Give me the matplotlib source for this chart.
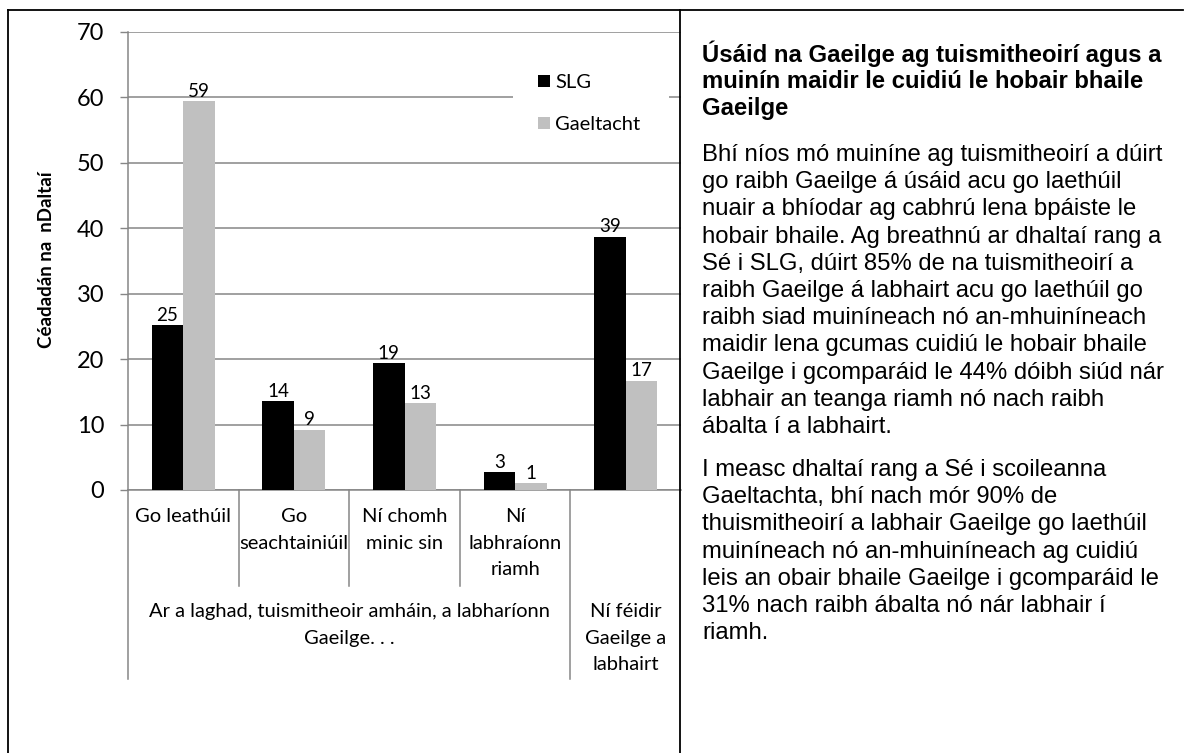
import matplotlib.pyplot as plt
import matplotlib.patches as mpatches
from matplotlib.lines import Line2D
import matplotlib.transforms as mtransforms
import numpy as np

# data
categories = ["Go leathúil", "Go\nseachtainiúil", "Ní chomh\nminic sin", "Ní\nlabhraíonn\nriamh", ""]
slg = [25.2, 13.6, 19.4, 2.7, 38.7]
gaeltacht = [59.4, 9.2, 13.3, 1.0, 16.7]
group_labels = ["Ar a laghad, tuismitheoir amháin, a labharíonn\nGaeilge. . .", "Ní féidir\nGaeilge a\nlabhairt"]
group_centres = [1.5, 4.0]
group_splits = [-0.5, 3.5]
y_ticks = [0, 10, 20, 30, 40, 50, 60, 70]

title_lines = ["Úsáid na Gaeilge ag tuismitheoirí agus a",
               "muinín maidir le cuidiú le hobair bhaile",
               "Gaeilge"]
para1 = ["Bhí níos mó muiníne ag tuismitheoirí a dúirt",
         "go raibh Gaeilge á úsáid acu go laethúil",
         "nuair a bhíodar ag cabhrú lena bpáiste le",
         "hobair bhaile. Ag breathnú ar dhaltaí rang a",
         "Sé i SLG, dúirt 85% de na tuismitheoirí a",
         "raibh Gaeilge á labhairt acu go laethúil go",
         "raibh siad muiníneach nó an-mhuiníneach",
         "maidir lena gcumas cuidiú le hobair bhaile",
         "Gaeilge i gcomparáid le 44% dóibh siúd nár",
         "labhair an teanga riamh nó nach raibh",
         "ábalta í a labhairt."]
para2 = ["I measc dhaltaí rang a Sé i scoileanna",
         "Gaeltachta, bhí nach mór 90% de",
         "thuismitheoirí a labhair Gaeilge go laethúil",
         "muiníneach nó an-mhuiníneach ag cuidiú",
         "leis an obair bhaile Gaeilge i gcomparáid le",
         "31% nach raibh ábalta nó nár labhair í",
         "riamh."]

W, H = 1191, 753
fig = plt.figure(figsize=(W / 100, H / 100), dpi=100)
plt.rcParams['font.family'] = ['Lato', 'DejaVu Sans']

def fx(px):
    return px / W

def fy(py):
    return 1 - py / H

ax = fig.add_axes([fx(128), fy(490), fx(681) - fx(128), fy(32) - fy(490)])

grid_c = '#868686'
x = np.arange(len(categories))
bw = 0.2857
b1 = ax.bar(x - bw / 2, slg, bw, color='black', zorder=3, label='SLG')
b2 = ax.bar(x + bw / 2, gaeltacht, bw, color='#c0c0c0', zorder=3, label='Gaeltacht')

for bars, vals in [(b1, slg), (b2, gaeltacht)]:
    for r, v in zip(bars, vals):
        ax.annotate(str(int(round(v))), (r.get_x() + r.get_width() / 2, v),
                    xytext=(0, 1), textcoords='offset points',
                    ha='center', va='bottom', fontsize=13.5, zorder=4)

ax.set_xlim(-0.5, 4.5)
ax.set_ylim(0, 70)
ax.set_yticks(y_ticks)
ax.tick_params(axis='y', labelsize=17, length=6, width=1, color=grid_c, pad=11)
ax.yaxis.grid(True, color=grid_c, linewidth=1.1, zorder=0)
ax.set_axisbelow(True)
for s in ['top', 'right']:
    ax.spines[s].set_visible(False)
for s in ['left', 'bottom']:
    ax.spines[s].set_color(grid_c)
    ax.spines[s].set_linewidth(1.1)

ax.set_xticks(x)
ax.set_xticklabels(categories, fontsize=14.5, linespacing=1.68, va='top')
ax.tick_params(axis='x', length=0, pad=13)

# multi-level category axis lines
trans = mtransforms.blended_transform_factory(ax.transData, fig.transFigure)
for xs in [0.5, 1.5, 2.5]:
    ax.add_line(Line2D([xs, xs], [fy(490), fy(586)], transform=trans, color=grid_c, lw=1.1, clip_on=False))
for xs in group_splits:
    ax.add_line(Line2D([xs, xs], [fy(490), fy(679)], transform=trans, color=grid_c, lw=1.1, clip_on=False))
for gx, gl in zip(group_centres, group_labels):
    ax.text(gx, fy(603), gl, transform=trans, ha='center', va='top', fontsize=14.5, linespacing=1.68)

fig.text(fx(47), fy(260), "Céadadán na  nDaltaí", rotation=90, ha='center', va='center',
         fontsize=13.5, fontweight='bold')

# legend with white box over the 60 gridline
fig.add_artist(mpatches.Rectangle((fx(513), fy(140)), fx(669) - fx(513), fy(62) - fy(140),
                                  transform=fig.transFigure, facecolor='white', edgecolor='none', zorder=5))
leg = fig.legend(handles=[b1, b2], loc='upper left', bbox_to_anchor=(fx(538), fy(74)),
                 frameon=False, fontsize=14.5, handlelength=0.6, handleheight=0.6,
                 handletextpad=0.25, labelspacing=1.25, borderpad=0, borderaxespad=0)
leg.set_zorder(6)

# borders
for xs, ys in [([8, 1183], [10, 10]), ([8, 8], [10, 753]), ([680, 680], [10, 753])]:
    fig.add_artist(Line2D([fx(v) for v in xs], [fy(v) for v in ys], color='black', lw=1.3, zorder=10))

# text panel
tx = fx(702)
sp = 27.2
for i, line in enumerate(title_lines):
    fig.text(tx, fy(54 + i * sp), line, family='Liberation Sans', fontweight='bold',
             fontsize=17.2, va='center', ha='left')
for i, line in enumerate(para1):
    fig.text(tx, fy(155 + i * sp), line, family='Liberation Sans', fontsize=17.2, va='center', ha='left')
for i, line in enumerate(para2):
    fig.text(tx, fy(470 + i * sp), line, family='Liberation Sans', fontsize=17.2, va='center', ha='left')

fig.savefig('out.png', dpi=100)
